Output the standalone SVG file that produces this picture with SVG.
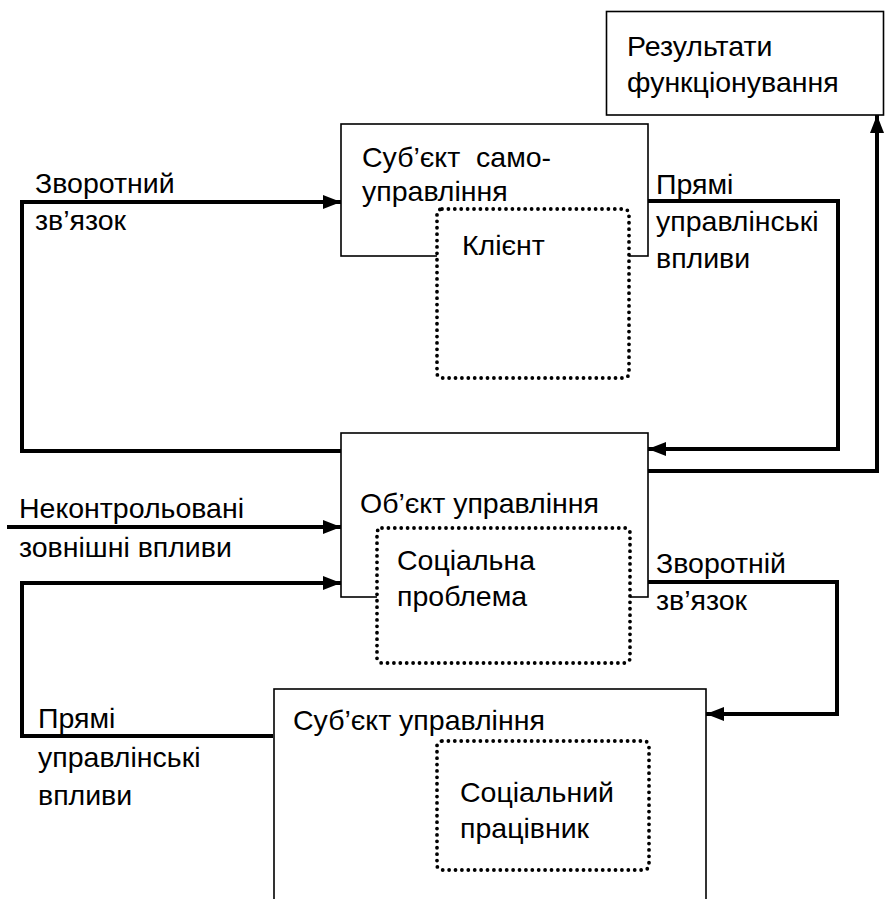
<svg xmlns="http://www.w3.org/2000/svg" width="885" height="899" viewBox="0 0 885 899">
<style>
  .box { fill: #fff; stroke: #000; stroke-width: 1.6; }
  .dot { fill: #fff; stroke: #000; stroke-width: 3.8; stroke-dasharray: 0 6.4; stroke-linecap: round; }
  .conn { fill: none; stroke: #000; stroke-width: 4; stroke-linejoin: miter; }
  text { font-family: "Liberation Sans", Arial, sans-serif; font-size: 28.5px; fill: #000; white-space: pre; }
</style>
<defs>
  <marker id="arr" markerUnits="userSpaceOnUse" markerWidth="18" markerHeight="16" viewBox="0 0 18 16" refX="18" refY="8" orient="auto">
    <path d="M0,1 L18,8 L0,15 Z" fill="#000"/>
  </marker>
</defs>
<rect width="885" height="899" fill="#fff"/>

<g id="connectors">
  <path class="conn" d="M341,451 H22 V202 H341" marker-end="url(#arr)"/>
  <path class="conn" d="M648,201 H838 V449 H648" marker-end="url(#arr)"/>
  <path class="conn" d="M648,471 H877 V115" marker-end="url(#arr)"/>
  <path class="conn" d="M7,527 H341" marker-end="url(#arr)"/>
  <path class="conn" d="M273,736 H22 V583 H341" marker-end="url(#arr)"/>
  <path class="conn" d="M648,582 H837 V714 H706" marker-end="url(#arr)"/>
</g>

<g id="results">
  <rect class="box" x="606.5" y="11.5" width="277" height="103.5"/>
  <text x="627" y="56">Результати</text>
  <text x="627" y="92">функціонування</text>
</g>

<g id="self-subject">
  <rect class="box" x="341" y="124" width="307" height="132"/>
  <text x="362" y="167">Суб’єкт  само-</text>
  <text x="362" y="201">управління</text>
</g>
<g id="client">
  <rect class="dot" x="437" y="209" width="192" height="169" rx="5"/>
  <text x="462" y="255">Клієнт</text>
</g>

<g id="object">
  <rect class="box" x="341" y="433" width="307" height="164"/>
  <text x="360" y="513">Об’єкт управління</text>
</g>
<g id="problem">
  <rect class="dot" x="377" y="528" width="253" height="135" rx="5"/>
  <text x="397" y="570">Соціальна</text>
  <text x="397" y="606">проблема</text>
</g>

<g id="manager">
  <rect class="box" x="274" y="689" width="432" height="230"/>
  <text x="293" y="730">Суб’єкт управління</text>
</g>
<g id="worker">
  <rect class="dot" x="437" y="741" width="212" height="129" rx="5"/>
  <text x="460" y="802">Соціальний</text>
  <text x="460" y="838">працівник</text>
</g>

<g id="labels">
  <text x="35" y="193">Зворотний</text>
  <text x="35" y="230">зв’язок</text>
  <text x="656" y="194">Прямі</text>
  <text x="656" y="231">управлінські</text>
  <text x="656" y="268">впливи</text>
  <text x="19" y="518">Неконтрольовані</text>
  <text x="19" y="557">зовнішні впливи</text>
  <text x="656" y="573">Зворотній</text>
  <text x="656" y="610">зв’язок</text>
  <text x="38" y="728">Прямі</text>
  <text x="38" y="767">управлінські</text>
  <text x="38" y="805">впливи</text>
</g>
</svg>
